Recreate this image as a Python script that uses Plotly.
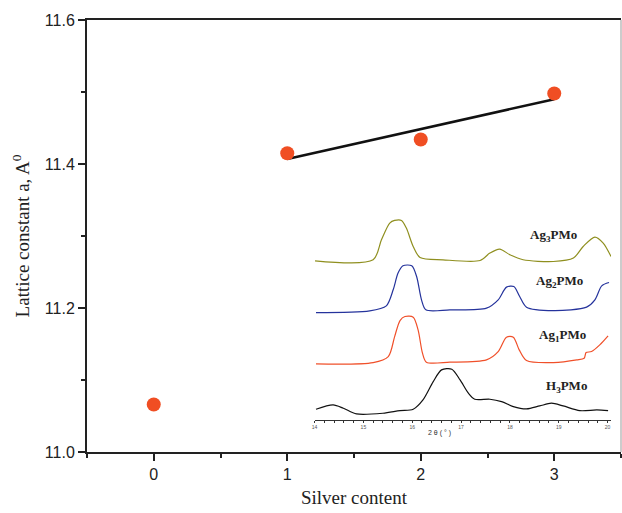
import plotly.graph_objects as go

# Main data: lattice constant vs silver content
silver = [0, 1, 2, 3]
lattice = [11.066, 11.415, 11.434, 11.498]
fit_x = [1, 3]
fit_y = [11.407, 11.490]

# Inset XRD patterns (2θ in degrees, intensity in arbitrary units, stacked)
ag3_x = [14.01, 15.20, 15.37, 15.54, 15.64, 15.78, 15.88, 16.02, 16.16, 16.63, 17.39, 17.59,
         17.79, 18.00, 18.27, 18.89, 19.30, 19.50, 19.74, 19.91, 20.07]
ag3_y = [159, 160, 180, 196.7, 199.3, 199.3, 191.7, 173.3, 162.3, 160, 159.3, 166.7,
         170.7, 165, 160, 158.3, 161.7, 173.3, 182.7, 176.7, 163.3]

ag2_x = [14.03, 15.13, 15.47, 15.61, 15.71, 15.81, 15.99, 16.09, 16.19, 16.28, 16.77, 17.52,
         17.76, 17.93, 18.08, 18.20, 18.34, 18.89, 19.57, 19.74, 19.88, 20.03]
ag2_y = [107.3, 109, 114, 130, 146.7, 154, 154, 143.3, 120, 110, 110, 111.7,
         120, 132.7, 133.3, 123.3, 112.7, 109.3, 112.7, 120, 134, 137.3]

ag1_x = [14.03, 15.20, 15.51, 15.64, 15.75, 15.85, 16.02, 16.12, 16.21, 16.29, 16.77, 17.52,
         17.76, 17.93, 18.07, 18.19, 18.34, 18.89, 19.37, 19.52, 19.56, 19.67, 19.84, 20.01]
ag1_y = [56, 57.3, 63.3, 83.3, 99.3, 103.3, 102.7, 90, 66.7, 57.7, 57.7, 60,
         68.3, 82.7, 82.7, 70, 59.3, 57.3, 60, 61.7, 67.3, 68.3, 75, 84]

h3_x = [14.03, 14.38, 14.59, 14.86, 15.40, 15.75, 16.02, 16.22, 16.43, 16.60, 16.81, 16.98,
        17.15, 17.28, 17.59, 17.83, 18.07, 18.34, 18.61, 18.85, 19.09, 19.43, 19.78, 20.01]
h3_y = [10.7, 15, 11.7, 6, 6.7, 9.3, 10.7, 20, 38.3, 50, 50.7, 40,
        26.7, 20.7, 20.7, 18.3, 13.3, 11, 14, 16.7, 14, 9.3, 10, 9.3]

inset_ticks = [14, 15, 16, 17, 18, 19, 20]
labels = ["<b>Ag<sub>3</sub>PMo</b>", "<b>Ag<sub>2</sub>PMo</b>",
          "<b>Ag<sub>1</sub>PMo</b>", "<b>H<sub>3</sub>PMo</b>"]
label_x = [18.89, 19.02, 19.07, 19.16]
label_y = [184, 138, 84, 33]

colors = ["#8f8f1f", "#25339c", "#f0502a", "#111111"]

fig = go.Figure()

fig.add_trace(go.Scatter(x=fit_x, y=fit_y, mode="lines",
                         line=dict(color="#111111", width=2.5), hoverinfo="skip"))
fig.add_trace(go.Scatter(x=silver, y=lattice, mode="markers",
                         marker=dict(color="#f04e23", size=14)))

for xs, ys, c in [(ag3_x, ag3_y, colors[0]), (ag2_x, ag2_y, colors[1]),
                  (ag1_x, ag1_y, colors[2]), (h3_x, h3_y, colors[3])]:
    fig.add_trace(go.Scatter(x=xs, y=ys, mode="lines", xaxis="x2", yaxis="y2",
                             line=dict(color=c, width=1.2, shape="spline", smoothing=0.8)))

for t, lx, ly in zip(labels, label_x, label_y):
    fig.add_annotation(x=lx, y=ly, xref="x2", yref="y2", text=t, showarrow=False,
                       font=dict(family="Liberation Serif", size=13, color="#222"))

fig.add_annotation(x=16.55, y=0.03, xref="x2", yref="paper",
                   text="2 θ ( ° )", showarrow=False,
                   font=dict(family="Liberation Sans", size=7, color="#333"))

fig.add_shape(type="line", xref="paper", yref="paper", x0=1, x1=1, y0=0, y1=1,
              line=dict(color="#999999", width=1))

fig.update_layout(
    width=622, height=513,
    margin=dict(l=87, r=1, t=20, b=61),
    paper_bgcolor="white", plot_bgcolor="white",
    showlegend=False,
    xaxis=dict(range=[-0.5, 3.5], tickvals=silver, showgrid=False, zeroline=False,
               showline=True, linecolor="#222", linewidth=2, mirror=True,
               ticks="outside", ticklen=7, tickwidth=1.5, tickcolor="#222",
               minor=dict(dtick=0.5, tick0=0.5, ticks="outside", ticklen=4, tickcolor="#222", tickwidth=1.5),
               tickfont=dict(family="Liberation Sans", size=16, color="#222"),
               title=dict(text="Silver content", standoff=8,
                          font=dict(family="Liberation Serif", size=19, color="#222"))),
    yaxis=dict(range=[11.0, 11.6], tickvals=[11.0, 11.2, 11.4, 11.6], tickformat=".1f",
               showgrid=False, zeroline=False,
               showline=True, linecolor="#222", linewidth=2,
               ticks="outside", ticklen=7, tickwidth=1.5, tickcolor="#222",
               minor=dict(dtick=0.1, tick0=11.1, ticks="outside", ticklen=4, tickcolor="#222", tickwidth=1.5),
               tickfont=dict(family="Liberation Sans", size=16, color="#222"),
               title=dict(text="Lattice constant a, A<sup>0</sup>", standoff=10,
                          font=dict(family="Liberation Serif", size=19, color="#222"))),
    xaxis2=dict(domain=[0.4261, 0.9813], anchor="y2", range=[14, 20.07],
                tickvals=inset_ticks, showgrid=False, zeroline=False,
                showline=True, linecolor="#333", linewidth=1,
                ticks="outside", ticklen=2, tickwidth=1, tickcolor="#333",
                minor=dict(dtick=0.2, ticks="outside", ticklen=2, tickcolor="#333"),
                tickfont=dict(family="Liberation Sans", size=5, color="#555")),
    yaxis2=dict(domain=[0.0742, 0.5608], anchor="x2", range=[0, 210],
                visible=False),
)

fig.write_html("out.html")
